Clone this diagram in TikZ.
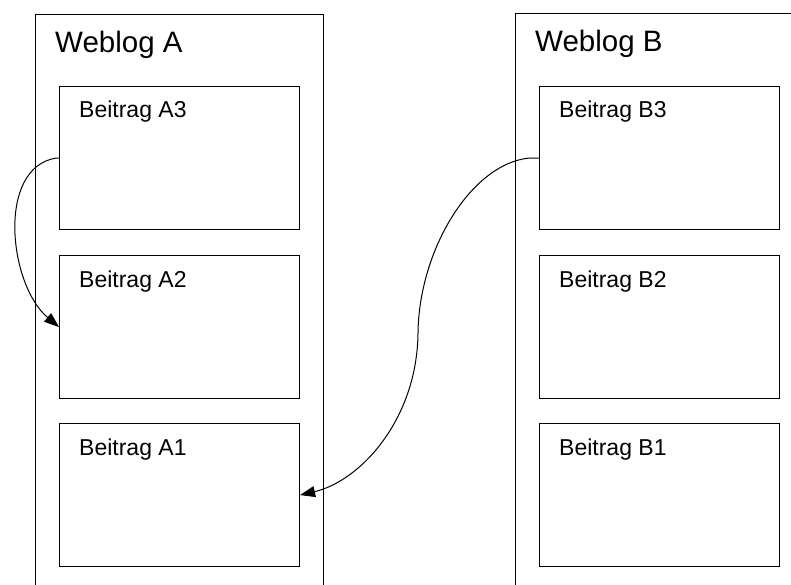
\documentclass[tikz,border=0pt]{standalone}
\usepackage{fontspec}
\setmainfont{Liberation Sans}
\usetikzlibrary{arrows.meta}
\begin{document}
\begin{tikzpicture}[x=1pt,y=-1pt,
  blogbox/.style={draw,line width=1.1pt,minimum width=288pt,minimum height=586pt,inner sep=0pt,anchor=north west},
  postbox/.style={draw,line width=1.1pt,minimum width=240pt,minimum height=143pt,inner sep=0pt,anchor=north west},
  blogtitle/.style={anchor=base west,inner sep=0pt,font=\fontsize{29.5}{31}\selectfont},
  posttitle/.style={anchor=base west,inner sep=0pt,font=\fontsize{23}{25}\selectfont},
  link/.style={line width=1pt,-{Triangle[length=15pt,width=11pt]}}]
\useasboundingbox (0,0) rectangle (791,585);
\clip (0,0) rectangle (791,585);
\fill[white] (0,0) rectangle (791,585);
% Weblog A
\node[blogbox] (WA) at (35,14) {};
\node[blogtitle] (tWA) at (55,53) {Weblog A};
\node[postbox] (A3) at (59,86) {};
\node[postbox] (A2) at (59,255) {};
\node[postbox] (A1) at (59,423) {};
\node[posttitle] (tA3) at ([shift={(20,32)}]A3.north west) {Beitrag A3};
\node[posttitle] (tA2) at ([shift={(20,32)}]A2.north west) {Beitrag A2};
\node[posttitle] (tA1) at ([shift={(20,32)}]A1.north west) {Beitrag A1};
% Weblog B
\node[blogbox] (WB) at (515,13) {};
\node[blogtitle] (tWB) at (535,52) {Weblog B};
\node[postbox] (B3) at (539,86) {};
\node[postbox] (B2) at (539,255) {};
\node[postbox] (B1) at (539,423) {};
\node[posttitle] (tB3) at ([shift={(20,32)}]B3.north west) {Beitrag B3};
\node[posttitle] (tB2) at ([shift={(20,32)}]B2.north west) {Beitrag B2};
\node[posttitle] (tB1) at ([shift={(20,32)}]B1.north west) {Beitrag B1};
% links
\coordinate (mid) at (418,333);
\draw[link] (A3.west) -- ++(-3,0) .. controls +(-60,10) and +(-50,-42) .. (A2.west);
\draw[link] (B3.west) -- ++(-10,0) .. controls +(-58,6) and +(1,-83) .. (mid)
  .. controls +(-1,87) and +(60,-14) .. (A1.east);
\end{tikzpicture}
\end{document}
